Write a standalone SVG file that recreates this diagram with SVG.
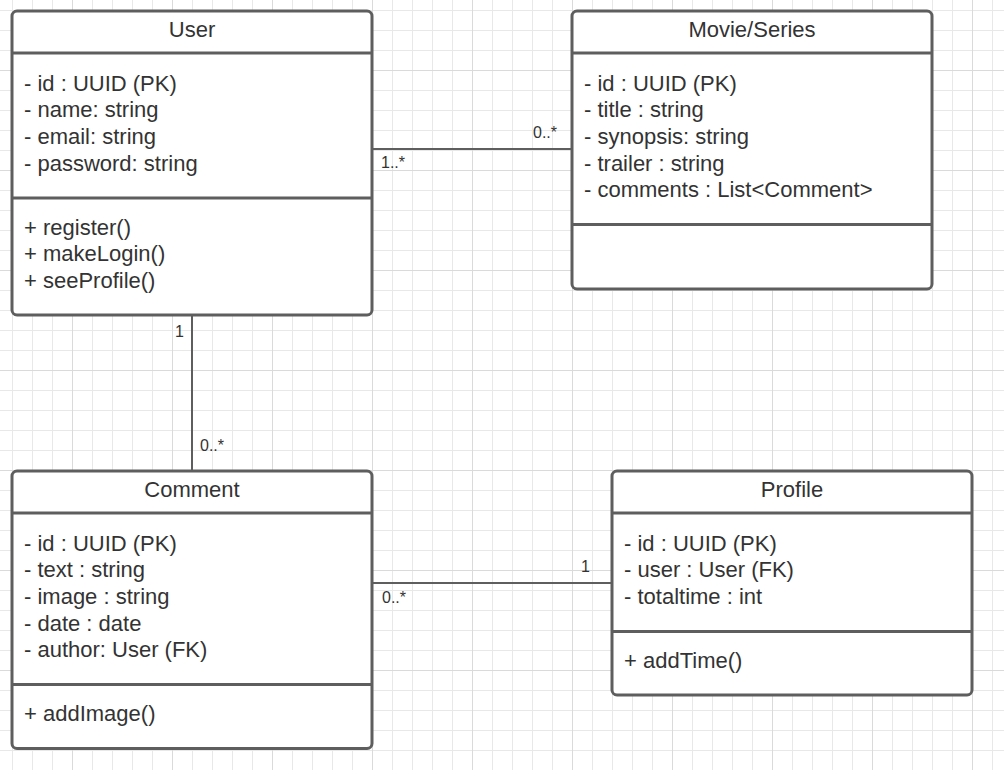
<svg xmlns="http://www.w3.org/2000/svg" width="1004" height="770" viewBox="0 0 1004 770">
  <defs>
    <pattern id="grid" x="12" y="10" width="100" height="100" patternUnits="userSpaceOnUse">
      <path d="M0.5 0V100M20.5 0V100M40.5 0V100M80.5 0V100M0 0.5H100M0 20.5H100M0 40.5H100M0 80.5H100" stroke="#e8e8e8" stroke-width="1" fill="none"/>
      <path d="M60.5 0V100M0 60.5H100" stroke="#dadada" stroke-width="1" fill="none"/>
    </pattern>
  </defs>
  <style>
    .box { fill: #ffffff; stroke: #5e5e5e; stroke-width: 3; }
    .div { stroke: #5e5e5e; stroke-width: 3; }
    .conn { stroke: #5e5e5e; stroke-width: 2; fill: none; }
    .title { font-family: "Liberation Sans", Arial, sans-serif; font-size: 22px; fill: #333333; text-anchor: middle; }
    .txt { font-family: "Liberation Sans", Arial, sans-serif; font-size: 22px; fill: #333333; }
    .lbl { font-family: "Liberation Sans", Arial, sans-serif; font-size: 16px; fill: #333333; }
  </style>
  <rect x="0" y="0" width="1004" height="770" fill="#ffffff"/>
  <rect x="0" y="0" width="1004" height="770" fill="url(#grid)"/>

  <g id="connectors">
    <line class="conn" x1="372" y1="149" x2="572" y2="149"/>
    <text class="lbl" x="557" y="138" text-anchor="end">0..*</text>
    <text class="lbl" x="381" y="168">1..*</text>

    <line class="conn" x1="192" y1="315" x2="192" y2="471"/>
    <text class="lbl" x="184" y="337" text-anchor="end">1</text>
    <text class="lbl" x="200" y="451">0..*</text>

    <line class="conn" x1="372" y1="583" x2="612" y2="583"/>
    <text class="lbl" x="590" y="572" text-anchor="end">1</text>
    <text class="lbl" x="382" y="603">0..*</text>
  </g>

  <g id="user">
    <rect class="box" x="12" y="11" width="360" height="304" rx="5"/>
    <line class="div" x1="12" y1="53" x2="372" y2="53"/>
    <line class="div" x1="12" y1="198" x2="372" y2="198"/>
    <text class="title" x="192" y="37">User</text>
    <text class="txt" x="24" y="90.5">- id : UUID (PK)</text>
    <text class="txt" x="24" y="117.2">- name: string</text>
    <text class="txt" x="24" y="143.9">- email: string</text>
    <text class="txt" x="24" y="170.5">- password: string</text>
    <text class="txt" x="24" y="234.5">+ register()</text>
    <text class="txt" x="24" y="261.2">+ makeLogin()</text>
    <text class="txt" x="24" y="287.9">+ seeProfile()</text>
  </g>

  <g id="movie-series">
    <rect class="box" x="572" y="11" width="360" height="278" rx="5"/>
    <line class="div" x1="572" y1="53" x2="932" y2="53"/>
    <line class="div" x1="572" y1="224.5" x2="932" y2="224.5"/>
    <text class="title" x="752" y="37">Movie/Series</text>
    <text class="txt" x="584" y="90.5">- id : UUID (PK)</text>
    <text class="txt" x="584" y="117.2">- title : string</text>
    <text class="txt" x="584" y="143.9">- synopsis: string</text>
    <text class="txt" x="584" y="170.5">- trailer : string</text>
    <text class="txt" x="584" y="197.2">- comments : List&lt;Comment&gt;</text>
  </g>

  <g id="comment">
    <rect class="box" x="12" y="471" width="360" height="277.5" rx="5"/>
    <line class="div" x1="12" y1="513" x2="372" y2="513"/>
    <line class="div" x1="12" y1="684.5" x2="372" y2="684.5"/>
    <text class="title" x="192" y="497">Comment</text>
    <text class="txt" x="24" y="550.5">- id : UUID (PK)</text>
    <text class="txt" x="24" y="577.2">- text : string</text>
    <text class="txt" x="24" y="603.9">- image : string</text>
    <text class="txt" x="24" y="630.5">- date : date</text>
    <text class="txt" x="24" y="657.2">- author: User (FK)</text>
    <text class="txt" x="24" y="721">+ addImage()</text>
  </g>

  <g id="profile">
    <rect class="box" x="612" y="471" width="360" height="224" rx="5"/>
    <line class="div" x1="612" y1="513" x2="972" y2="513"/>
    <line class="div" x1="612" y1="631.5" x2="972" y2="631.5"/>
    <text class="title" x="792" y="497">Profile</text>
    <text class="txt" x="624" y="550.5">- id : UUID (PK)</text>
    <text class="txt" x="624" y="577.2">- user : User (FK)</text>
    <text class="txt" x="624" y="603.9">- totaltime : int</text>
    <text class="txt" x="624" y="668">+ addTime()</text>
  </g>
</svg>
